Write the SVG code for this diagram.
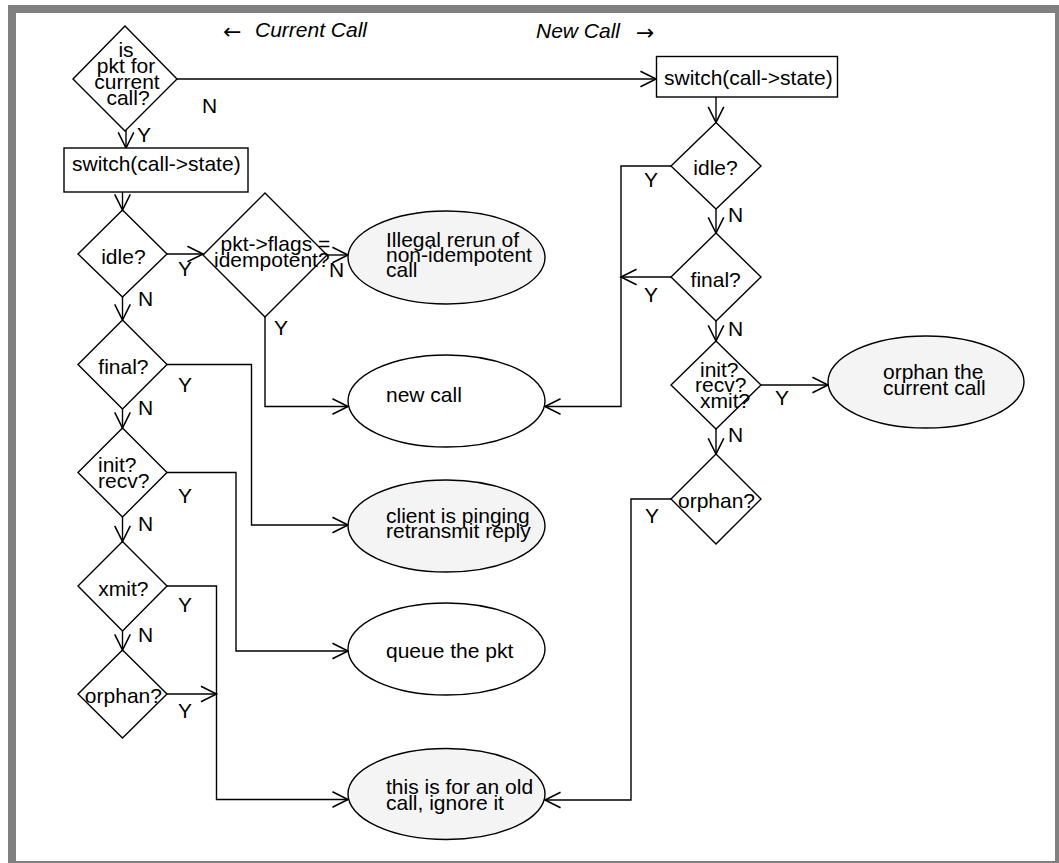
<svg xmlns="http://www.w3.org/2000/svg" width="1059" height="863" viewBox="0 0 1059 863">
<defs>
<style>
text{font-family:"Liberation Sans",Arial,sans-serif;font-size:21px;fill:#000}
.it{font-style:italic}
.m{text-anchor:middle}
.sym{font-family:"DejaVu Sans",sans-serif;font-size:22px}
.shape{fill:#fff;stroke:#000;stroke-width:1.4}
.term{fill:#f4f4f4;stroke:#000;stroke-width:1.4}
.conn path{fill:none;stroke:#000;stroke-width:1.4;marker-end:url(#arr)}
</style>
<marker id="arr" markerUnits="userSpaceOnUse" markerWidth="20" markerHeight="20" viewBox="-16 -9 18 18" refX="0" refY="0" orient="auto">
<path d="M-14,-7 L0,0 L-14,7" fill="none" stroke="#000" stroke-width="1.4"/>
</marker>
</defs>
<rect x="8" y="5" width="1051" height="858" fill="#808080"/>
<rect x="16" y="13" width="1039" height="848" fill="#fff"/>

<g id="headers">
<text class="sym" x="223" y="39">←</text>
<text x="255" y="37" class="it">Current Call</text>
<text x="536" y="38" class="it">New Call</text>
<text class="sym" x="636" y="40">→</text>
</g>

<g class="conn" id="connectors">
<path d="M126,130 L126,148"/>
<path d="M177,79 L656,79"/>
<path d="M122.5,192 L122.5,210"/>
<path d="M167,254 L203,254"/>
<path d="M327,255 L348,255"/>
<path d="M265,317 L265,406.5 L348,406.5"/>
<path d="M122.5,297 L122.5,320"/>
<path d="M167,364.5 L251.5,364.5 L251.5,525 L348,525"/>
<path d="M122.5,409 L122.5,428"/>
<path d="M167,472.5 L236,472.5 L236,651 L348,651"/>
<path d="M122.5,517 L122.5,541.5"/>
<path d="M167,586 L216.5,586 L216.5,799.5 L348,799.5"/>
<path d="M122.5,631 L122.5,650"/>
<path d="M167,694 L216.5,694"/>
<path d="M716,97 L716,122.5"/>
<path d="M671,166 L621,166 L621,406.5 L545,406.5"/>
<path d="M671,277 L621,277"/>
<path d="M716,209 L716,233"/>
<path d="M716,321 L716,341"/>
<path d="M761,385 L828,385"/>
<path d="M716,429 L716,454"/>
<path d="M671,499 L631,499 L631,800 L545,800"/>
</g>

<g id="conn-labels">
<text x="137" y="142">Y</text>
<text x="202" y="113">N</text>
<text x="178" y="276">Y</text>
<text x="138" y="306">N</text>
<text x="329" y="277">N</text>
<text x="274" y="335">Y</text>
<text x="178" y="392">Y</text>
<text x="138" y="415">N</text>
<text x="178" y="503">Y</text>
<text x="138" y="531">N</text>
<text x="178" y="612">Y</text>
<text x="138" y="642">N</text>
<text x="178" y="718">Y</text>
<text x="644" y="187">Y</text>
<text x="728" y="222">N</text>
<text x="644" y="302">Y</text>
<text x="728" y="336">N</text>
<text x="775" y="405">Y</text>
<text x="728" y="442">N</text>
<text x="645" y="523">Y</text>
</g>

<g id="d-current">
<path class="shape" d="M125,26 L177,79 L125,131 L73,79 Z" style="fill:none"/>
<text class="m" x="126" y="56.5">is</text>
<text class="m" x="126" y="72.5">pkt for</text>
<text class="m" x="127" y="88.5">current</text>
<text class="m" x="128" y="104.5">call?</text>
</g>

<g id="box-switch1">
<rect class="shape" x="64" y="148" width="184" height="44"/>
<text x="72" y="171">switch(call-&gt;state)</text>
</g>

<g id="box-switch2">
<rect class="shape" x="656.5" y="56.5" width="181" height="40.5"/>
<text x="664" y="85">switch(call-&gt;state)</text>
</g>

<g id="d-idle">
<path class="shape" d="M122.5,210 L167,254 L122.5,297 L78,254 Z" style="fill:none"/>
<text class="m" x="123.4" y="264">idle?</text>
</g>

<g id="d-flags">
<path class="shape" d="M265,193 L327,255 L265,317 L203,255 Z" style="fill:none"/>
<text x="220.5" y="251">pkt-&gt;flags =</text>
<text x="214" y="267">idempotent?</text>
</g>

<g id="d-final">
<path class="shape" d="M122.5,320 L167,364.5 L122.5,409 L78,364.5 Z" style="fill:none"/>
<text class="m" x="123.4" y="374">final?</text>
</g>

<g id="d-initrecv">
<path class="shape" d="M122.5,428 L167,472.5 L122.5,517 L78,472.5 Z" style="fill:none"/>
<text x="98" y="471.5">init?</text>
<text x="98" y="488">recv?</text>
</g>

<g id="d-xmit">
<path class="shape" d="M122.5,541.5 L167,586 L122.5,631 L78,586 Z" style="fill:none"/>
<text class="m" x="123.4" y="596">xmit?</text>
</g>

<g id="d-orphan">
<path class="shape" d="M122.5,650 L167,694 L122.5,738 L78,694 Z" style="fill:none"/>
<text class="m" x="123.4" y="703">orphan?</text>
</g>

<g id="r-idle">
<path class="shape" d="M716,122.5 L761,166 L716,209 L671,166 Z" style="fill:none"/>
<text class="m" x="715.5" y="175">idle?</text>
</g>

<g id="r-final">
<path class="shape" d="M716,233 L761,277 L716,321 L671,277 Z" style="fill:none"/>
<text class="m" x="715.7" y="287">final?</text>
</g>

<g id="r-initrecvxmit">
<path class="shape" d="M716,341 L761,385 L716,429 L671,385 Z" style="fill:none"/>
<text x="700" y="376.5">init?</text>
<text x="695" y="392">recv?</text>
<text x="700" y="408">xmit?</text>
</g>

<g id="r-orphan">
<path class="shape" d="M716,454 L761,499 L716,544 L671,499 Z" style="fill:none"/>
<text class="m" x="716.5" y="508">orphan?</text>
</g>

<g id="e-illegal">
<ellipse class="term" cx="446.5" cy="257.5" rx="98.5" ry="46.5"/>
<text x="386" y="247">Illegal rerun of</text>
<text x="386" y="262">non-idempotent</text>
<text x="386" y="277">call</text>
</g>

<g id="e-newcall">
<ellipse class="shape" cx="446.5" cy="401" rx="98.5" ry="46"/>
<text x="386" y="402">new call</text>
</g>

<g id="e-client">
<ellipse class="term" cx="446.5" cy="526" rx="98.5" ry="46"/>
<text x="386" y="523">client is pinging</text>
<text x="386" y="538">retransmit reply</text>
</g>

<g id="e-queue">
<ellipse class="shape" cx="446.5" cy="649" rx="98.5" ry="46"/>
<text x="386" y="658">queue the pkt</text>
</g>

<g id="e-oldcall">
<ellipse class="term" cx="446.5" cy="794" rx="98.5" ry="45.5"/>
<text x="386" y="794">this is for an old</text>
<text x="386" y="810">call, ignore it</text>
</g>

<g id="e-orphan">
<ellipse class="term" cx="926" cy="382" rx="98" ry="46"/>
<text x="883" y="379">orphan the</text>
<text x="883" y="395">current call</text>
</g>
</svg>
